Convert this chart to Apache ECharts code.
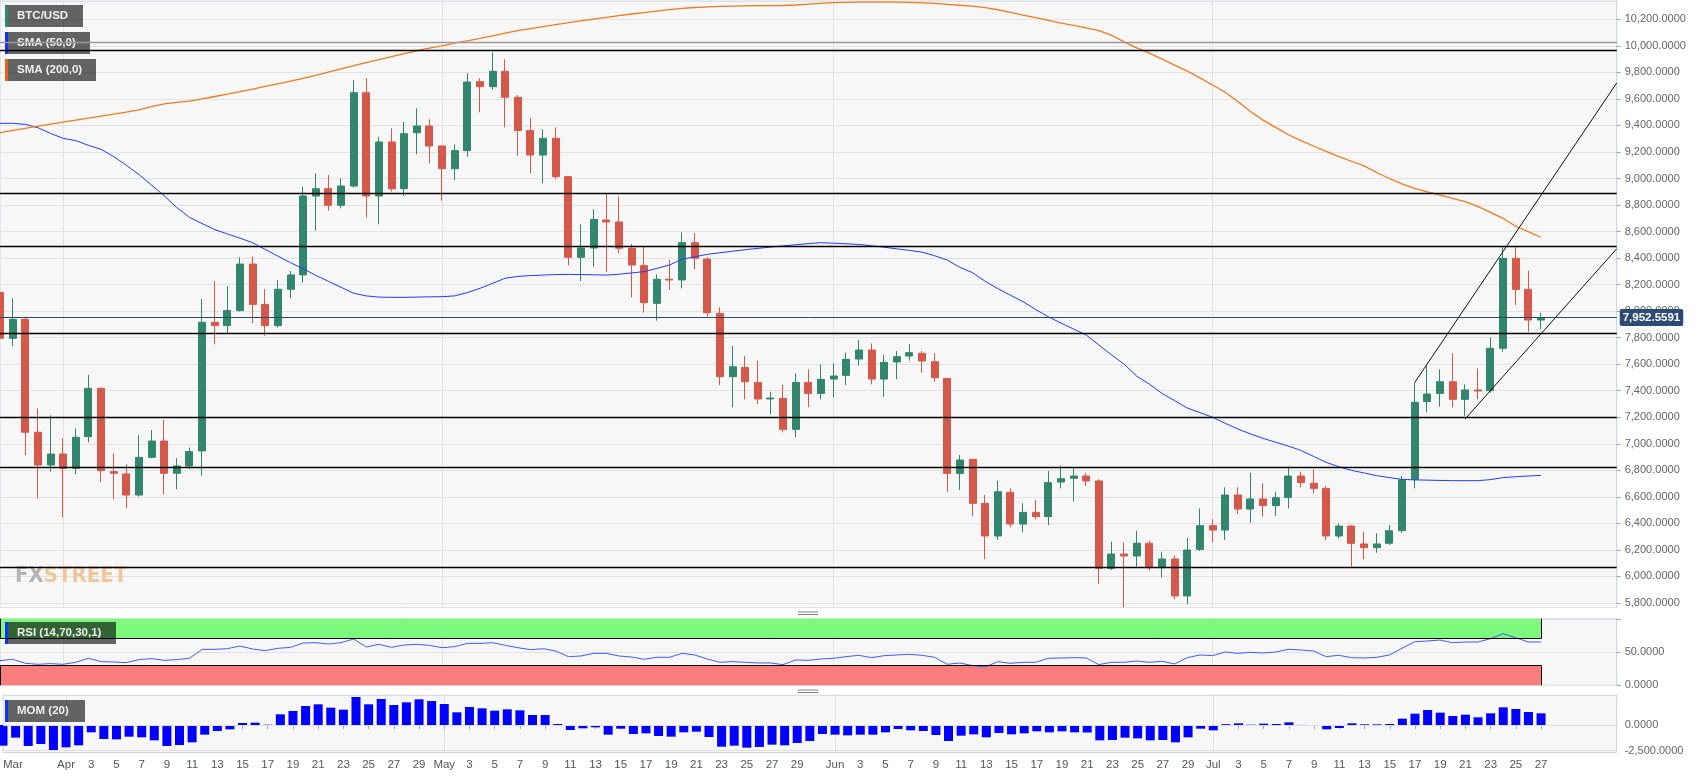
<!DOCTYPE html>
<html>
<head>
<meta charset="utf-8">
<script src="https://cdn.jsdelivr.net/npm/echarts@6/dist/echarts.min.js"></script>
<style>
html,body{margin:0;padding:0;background:#ffffff;}
#chart{width:1707px;height:778px;}
</style>
</head>
<body>
<div id="chart"></div>
<script>
// ---------------- DATA ----------------
// daily categories: 2018-03-27 .. 2018-08-02 (the axis runs 6 empty days past the last candle)
const FIRST_DAY = [2018, 2, 27];
const AXIS_DAYS = 129;
const dates = [];
(function () {
  const d = new Date(Date.UTC(FIRST_DAY[0], FIRST_DAY[1], FIRST_DAY[2]));
  for (let i = 0; i < AXIS_DAYS; i++) {
    dates.push(d.toISOString().slice(0, 10));
    d.setUTCDate(d.getUTCDate() + 1);
  }
})();

// BTC/USD daily candles: [open, close, low, high]
const candles = [
  [8142,7795,7757,8222],[7795,7938,7737,8097],[7938,7087,6913,7958],[7087,6840,6589,7267],[6840,6923,6790,7215],
  [6923,6815,6446,7041],[6815,7049,6770,7117],[7054,7418,7011,7519],[7418,6798,6710,7426],[6790,6778,6581,6928],
  [6773,6614,6514,6845],[6614,6898,6602,7066],[6898,7021,6891,7104],[7021,6778,6619,7180],[6778,6833,6657,6891],
  [6833,6941,6808,6971],[6946,7916,6760,8092],[7916,7891,7750,8227],[7891,8004,7825,8190],[8004,8355,7996,8406],
  [8355,8051,7908,8411],[8051,7891,7815,8165],[7891,8165,7878,8235],[8165,8273,8097,8303],[8273,8868,8215,8938],
  [8868,8923,8607,9039],[8923,8798,8757,9026],[8798,8943,8775,9001],[8943,9647,8933,9742],[9647,8868,8707,9755],
  [8868,9275,8655,9315],[9275,8923,8901,9378],[8923,9338,8868,9428],[9345,9396,9182,9529],[9396,9245,9114,9446],
  [9245,9074,8833,9250],[9074,9210,8989,9258],[9210,9727,9165,9793],[9730,9692,9499,9755],[9692,9808,9672,9951],
  [9808,9612,9386,9898],[9612,9361,9172,9629],[9361,9177,9039,9454],[9177,9303,8964,9371],[9303,9014,8994,9386],
  [9014,8406,8345,9019],[8406,8476,8227,8655],[8476,8692,8335,8768],[8687,8672,8293,8883],[8672,8474,8436,8863],
  [8474,8348,8104,8506],[8343,8064,7989,8486],[8059,8240,7928,8278],[8240,8235,8159,8386],[8235,8516,8172,8594],
  [8516,8398,8315,8587],[8393,7988,7958,8406],[7983,7506,7443,8029],[7506,7581,7275,7737],[7576,7468,7335,7662],
  [7463,7338,7300,7627],[7338,7345,7222,7393],[7343,7109,7086,7443],[7109,7463,7049,7531],[7463,7380,7275,7561],
  [7380,7486,7335,7599],[7488,7511,7350,7607],[7516,7637,7443,7689],[7639,7707,7589,7782],[7707,7488,7448,7757],
  [7488,7614,7355,7669],[7617,7657,7486,7700],[7662,7687,7627,7752],[7682,7624,7536,7700],[7619,7498,7468,7682],
  [7493,6777,6639,7493],[6777,6878,6652,6916],[6883,6551,6456,6883],[6551,6305,6129,6614],[6305,6639,6275,6722],
  [6634,6395,6370,6664],[6395,6483,6333,6551],[6483,6451,6431,6576],[6451,6707,6388,6795],[6712,6737,6664,6835],
  [6740,6757,6564,6820],[6757,6720,6682,6782],[6720,6061,5943,6732],[6061,6169,6049,6262],[6169,6154,5767,6255],
  [6154,6250,6074,6345],[6250,6066,6044,6270],[6066,6132,5993,6187],[6132,5853,5828,6157],[5853,6199,5790,6292],
  [6204,6383,6192,6513],[6383,6350,6257,6431],[6350,6614,6275,6672],[6614,6508,6471,6672],[6508,6584,6406,6782],
  [6584,6534,6451,6702],[6534,6594,6456,6639],[6596,6757,6513,6828],[6757,6707,6672,6790],[6702,6664,6627,6808],
  [6664,6305,6275,6682],[6305,6380,6287,6400],[6380,6250,6074,6388],[6245,6217,6129,6338],[6217,6245,6179,6325],
  [6250,6345,6237,6388],[6345,6727,6330,6757],[6732,7313,6664,7461],[7318,7375,7237,7587],[7380,7468,7280,7561],
  [7468,7335,7275,7682],[7335,7406,7212,7448],[7406,7398,7335,7569],[7401,7720,7385,7803],[7720,8398,7695,8481],
  [8398,8164,8046,8481],[8164,7933,7845,8305],[7933,7952.5591,7863,7988]
];

// SMA (50) values
const sma50 = [
  9416,9416,9408,9383,9340,9303,9285,9250,9220,9165,9100,9030,8950,8870,8780,8707,8660,8615,8582,8550,
  8516,8465,8415,8365,8320,8270,8225,8180,8135,8115,8106,8104,8104,8106,8108,8109,8115,8140,8172,8210,
  8248,8262,8268,8272,8276,8277,8276,8274,8272,8278,8288,8298,8322,8348,8391,8410,8428,8440,8452,8463,
  8473,8483,8492,8501,8509,8516,8512,8508,8503,8493,8482,8470,8458,8445,8418,8385,8330,8290,8225,8170,
  8120,8071,8012,7958,7910,7865,7820,7745,7670,7600,7510,7450,7380,7325,7270,7235,7200,7155,7112,7075,
  7041,7012,6983,6950,6905,6860,6827,6800,6780,6760,6745,6732,6728,6726,6724,6722,6722,6722,6730,6745,
  6752,6757,6762
];

// SMA (200) values
const sma200 = [
  9346,9362,9378,9394,9410,9425,9440,9455,9470,9485,9500,9517,9542,9563,9574,9584,9600,9618,9636,9655,
  9674,9694,9714,9734,9755,9778,9802,9826,9850,9873,9896,9918,9942,9963,9983,9999,10020,10038,10056,10075,
  10096,10114,10130,10145,10160,10175,10188,10202,10215,10228,10240,10250,10262,10273,10282,10289,10294,10298,10300,10302,
  10303,10303,10304,10308,10314,10320,10325,10328,10330,10330,10330,10329,10327,10324,10320,10313,10306,10300,10288,10272,
  10252,10232,10212,10192,10172,10155,10136,10115,10080,10030,9985,9945,9900,9855,9810,9758,9705,9650,9580,9505,
  9440,9385,9330,9285,9245,9205,9165,9130,9095,9045,9000,8960,8925,8900,8875,8850,8825,8790,8745,8700,
  8640,8600,8557
];

// RSI (14,70,30,1)
const rsi = [
  37,39,33,31.5,32.5,31.5,34.5,40.5,35.5,35,34,38.5,40,37.5,38.5,40.5,54,54,55,59,
  54.5,52,55.5,57,63.5,64,62,64,69.5,57.5,61.5,57,60.5,61.5,60,56.5,58,63,63,64,
  60,56.5,53.5,55,51.5,43,44,48,48,44,42.5,39,42,42,48,45.5,39.5,34.5,35.5,34.5,
  33.5,33.5,31,38,37.5,39.5,40.5,43,45,41.5,44.5,45.5,46.5,45,42,31.5,33.5,29.5,27.5,35.5,
  33,34.5,34.5,40.5,41,41.5,41,31,34.5,34.5,36.5,34.5,36,32,41.5,45.5,44.5,50,48,49.5,
  48.5,50,54,53,51.5,43,45,41.5,41,42,45.5,55.5,65.5,66.5,68,64,65,65,70,77.5,
  71.5,65,65
];

// MOM (20)
const mom = [
  -2010,-1232,-2043,-1849,-2497,-2173,-1978,-713,-1362,-1394,-1135,-1200,-1492,-2043,-1946,-1686,-940,-584,-422,195,
  227,30,1038,1362,1849,2011,1686,1492,2724,2011,2530,1946,2205,2497,2335,2043,1232,1751,1622,1394,
  1524,1427,973,973,97,-486,-324,-227,-940,-357,-876,-811,-1070,-1135,-713,-649,-1168,-2108,-2011,-2205,
  -2140,-1913,-1978,-1751,-1557,-876,-940,-1005,-940,-940,-713,-389,-519,-584,-973,-1557,-1038,-908,-1200,-778,
  -908,-811,-616,-713,-616,-713,-730,-1492,-1459,-1232,-1297,-1492,-1459,-1686,-1200,-357,-519,80,162,30,
  130,97,259,10,-30,-422,-292,162,65,65,97,616,1103,1459,1200,876,1005,746,1135,1719,
  1557,1265,1135
];

// drawn horizontal support/resistance levels
const levels = [9964, 8888, 8487, 7833, 7201, 6823, 6069];
const greyLevel = 10027;
const lastPrice = 7952.5591;
// drawn channel lines [date, price]
const channelUpper = [['2018-07-17', 7461], ['2018-08-02', 9720]];
const channelLower = [['2018-07-21', 7187], ['2018-08-02', 8470]];

// x tick labels (days that get a label)
const xLabelDays = {
  '2018-03': [27],
  '2018-04': [1,3,5,7,9,11,13,15,17,19,21,23,25,27,29],
  '2018-05': [1,3,5,7,9,11,13,15,17,19,21,23,25,27,29],
  '2018-06': [1,3,5,7,9,11,13,15,17,19,21,23,25,27,29],
  '2018-07': [1,3,5,7,9,11,13,15,17,19,21,23,25,27]
};
const monthNames = {'03':'Mar','04':'Apr','05':'May','06':'Jun','07':'Jul'};
// vertical month grid lines
const monthLines = ['2018-04-01', '2018-05-01', '2018-06-01', '2018-07-01'];

// y tick label sets
const rsiTicks = [0, 50];
const momTicks = [-2500, 0];

// ---------------- BUILD ----------------
const labelMap = {};
let firstLabel = true;
Object.keys(xLabelDays).forEach(function (ym) {
  xLabelDays[ym].forEach(function (day) {
    const key = ym + '-' + String(day).padStart(2, '0');
    const mm = ym.slice(5, 7);
    labelMap[key] = (day === 1 || firstLabel) ? monthNames[mm] : String(day);
    firstLabel = false;
  });
});

const nf = new Intl.NumberFormat('en-US', {minimumFractionDigits: 4, maximumFractionDigits: 4});
const LAST = candles.length - 1;
const FONT = 'Liberation Sans, Arial, sans-serif';
const GRID_BORDER = '#cfd6e4';
const GRID_LINE = '#e3e3e3';

function monthSplit(idx, val) { return monthLines.indexOf(val) >= 0; }

function gridCfg(top, height) {
  return {left: 0, right: 90.3, top: top, height: height, show: true,
    backgroundColor: '#f7f7f7', borderColor: GRID_BORDER, borderWidth: 1};
}
function hiddenX(gi) {
  return {type: 'category', gridIndex: gi, data: dates, boundaryGap: false,
    axisLine: {show: false}, axisTick: {show: false}, axisLabel: {show: false},
    splitLine: {show: true, interval: monthSplit, lineStyle: {color: GRID_LINE, width: 1}}};
}
const yLabelStyle = {color: '#666', fontSize: 11, fontFamily: FONT, margin: 8};

function tag(x, y, w, text, stripe) {
  return {
    type: 'group', z: 2,
    children: [
      {type: 'rect', z: 2, shape: {x: x, y: y, width: w, height: 22}, style: {fill: 'rgba(0,0,0,0.6)'}},
      {type: 'rect', z: 2, shape: {x: x, y: y, width: 3, height: 22}, style: {fill: stripe}},
      {type: 'text', z: 2, x: x + 12, y: y + 11,
        style: {text: text, fill: '#f0f0f0', font: 'bold 11.5px ' + FONT, verticalAlign: 'middle', align: 'left'}}
    ]
  };
}
function handle(cx, y) {
  return {type: 'group', z: 2, children: [
    {type: 'line', z: 2, shape: {x1: cx - 10, y1: y, x2: cx + 10, y2: y}, style: {stroke: '#808080', lineWidth: 1}},
    {type: 'line', z: 2, shape: {x1: cx - 10, y1: y + 2.5, x2: cx + 10, y2: y + 2.5}, style: {stroke: '#808080', lineWidth: 1}}
  ]};
}

const option = {
  backgroundColor: '#ffffff',
  animation: false,
  textStyle: {fontFamily: FONT},
  grid: [gridCfg(1, 606.5), gridCfg(618.75, 66.5), gridCfg(695.3, 57.2)],
  xAxis: [
    hiddenX(0),
    hiddenX(1),
    {type: 'category', gridIndex: 2, data: dates, boundaryGap: false,
      axisLine: {show: true, lineStyle: {color: GRID_BORDER}},
      axisTick: {show: true, interval: function (i, v) { return labelMap[v] !== undefined; }, length: 4, lineStyle: {color: '#a0a8b8'}},
      axisLabel: {show: true, interval: function (i, v) { return labelMap[v] !== undefined; },
        formatter: function (v) { return labelMap[v] || ''; }, color: '#555', fontSize: 11.5, fontFamily: FONT, margin: 6,
        alignMinLabel: 'left'},
      splitLine: {show: true, interval: monthSplit, lineStyle: {color: GRID_LINE, width: 1}}}
  ],
  yAxis: [
    {type: 'value', gridIndex: 0, position: 'right', min: 5766, max: 10338, minInterval: 200, maxInterval: 200,
      axisLine: {show: true, lineStyle: {color: GRID_BORDER}},
      axisTick: {show: true, length: 4, lineStyle: {color: '#a0a8b8'}},
      axisLabel: Object.assign({showMinLabel: false, showMaxLabel: false,
        formatter: function (v) { return Math.abs(v % 200) < 1e-6 ? nf.format(v) : ''; }}, yLabelStyle),
      splitLine: {show: true, lineStyle: {color: GRID_LINE, width: 1}}},
    {type: 'value', gridIndex: 1, position: 'right', min: 0, max: 100, interval: 50,
      axisLine: {show: true, lineStyle: {color: GRID_BORDER}},
      axisTick: {show: true, length: 4, lineStyle: {color: '#a0a8b8'}},
      axisLabel: Object.assign({formatter: function (v) { return rsiTicks.indexOf(v) >= 0 ? nf.format(v) : ''; }}, yLabelStyle),
      splitLine: {show: true, lineStyle: {color: GRID_LINE, width: 1}}},
    {type: 'value', gridIndex: 2, position: 'right', min: -2675, max: 2889, minInterval: 2500, maxInterval: 2500,
      axisLine: {show: true, lineStyle: {color: GRID_BORDER}},
      axisTick: {show: false},
      axisLabel: Object.assign({showMinLabel: false, showMaxLabel: false,
        formatter: function (v) { return momTicks.indexOf(v) >= 0 ? nf.format(v) : ''; }}, yLabelStyle),
      splitLine: {show: false}}
  ],
  series: [
    {
      name: 'BTC/USD', type: 'candlestick', xAxisIndex: 0, yAxisIndex: 0, z: 3,
      barWidth: 7.5,
      data: candles,
      itemStyle: {color: '#32866e', color0: '#d5594a', borderColor: '#32866e', borderColor0: '#d5594a', borderWidth: 1},
      markLine: {
        silent: true, symbol: ['none', 'none'], animation: false,
        label: {show: false},
        data: levels.map(function (v) {
          return {yAxis: v, lineStyle: {color: '#000000', width: 1.4, type: 'solid'}};
        }).concat([
          {yAxis: greyLevel, lineStyle: {color: '#9a9a9a', width: 1.4, type: 'solid'}},
          {yAxis: lastPrice, lineStyle: {color: '#2c4770', width: 1, type: 'solid'},
            label: {show: true, position: 'end', distance: 3, formatter: nf.format(lastPrice),
              color: '#ffffff', fontWeight: 'bold', fontSize: 11.5, fontFamily: FONT,
              backgroundColor: '#2d4b74', padding: [3, 3, 2, 3], borderRadius: 2}},
          [{coord: channelUpper[0], lineStyle: {color: '#111111', width: 1, type: 'solid'}}, {coord: channelUpper[1]}],
          [{coord: channelLower[0], lineStyle: {color: '#111111', width: 1, type: 'solid'}}, {coord: channelLower[1]}]
        ])
      }
    },
    {name: 'SMA (50,0)', type: 'line', xAxisIndex: 0, yAxisIndex: 0, z: 4, data: sma50, showSymbol: false,
      lineStyle: {color: '#1e3cff', width: 1}, silent: true},
    {name: 'SMA (200,0)', type: 'line', xAxisIndex: 0, yAxisIndex: 0, z: 4, data: sma200, showSymbol: false,
      lineStyle: {color: '#f07a1e', width: 1.3}, silent: true},
    {name: 'RSI bands', type: 'line', xAxisIndex: 1, yAxisIndex: 1, z: 1, data: rsi, showSymbol: false,
      lineStyle: {opacity: 0}, silent: true,
      markArea: {silent: true, data: [
        [{xAxis: dates[0], yAxis: 70, itemStyle: {color: '#7dfa7d'}}, {xAxis: dates[LAST], yAxis: 100}],
        [{xAxis: dates[0], yAxis: 0, itemStyle: {color: '#fa7d7d'}}, {xAxis: dates[LAST], yAxis: 30}]
      ]},
      markLine: {silent: true, symbol: ['none', 'none'], label: {show: false},
        lineStyle: {color: '#000000', width: 1, type: 'solid'},
        data: [
          [{coord: [dates[0], 70]}, {coord: [dates[LAST], 70]}],
          [{coord: [dates[0], 30]}, {coord: [dates[LAST], 30]}],
          [{coord: [dates[LAST], 70]}, {coord: [dates[LAST], 100]}],
          [{coord: [dates[LAST], 0]}, {coord: [dates[LAST], 30]}],
          [{coord: [dates[0], 70]}, {coord: [dates[0], 100]}],
          [{coord: [dates[0], 0]}, {coord: [dates[0], 30]}]
        ]}
    },
    {name: 'RSI', type: 'line', xAxisIndex: 1, yAxisIndex: 1, z: 3, data: rsi, showSymbol: false,
      lineStyle: {color: '#3f5cff', width: 1}, silent: true},
    {name: 'MOM (20)', type: 'bar', xAxisIndex: 2, yAxisIndex: 2, z: 3, data: mom, barWidth: 9,
      itemStyle: {color: '#0000ff'}, silent: true,
      markLine: {silent: true, symbol: ['none', 'none'], label: {show: false},
        lineStyle: {color: '#e0e0e0', width: 1, type: 'solid'},
        data: momTicks.map(function (v) { return {yAxis: v}; })}
    }
  ],
  graphic: [
    tag(5, 5, 78, 'BTC/USD', '#2e8b72'),
    tag(5, 32, 85, 'SMA (50,0)', '#1030ff'),
    tag(5, 59, 91, 'SMA (200,0)', '#f06010'),
    tag(5, 622, 111, 'RSI (14,70,30,1)', '#1030ff'),
    tag(5, 700, 80, 'MOM (20)', '#1030ff'),
    handle(808, 612),
    handle(808, 690),
    {type: 'text', z: 2, x: 15, y: 576,
      style: {text: '{a|FX}{b|STREET}', verticalAlign: 'middle', align: 'left',
        rich: {
          a: {fill: '#b4b4b4', font: 'bold 22px "DejaVu Sans Condensed", sans-serif'},
          b: {fill: '#efc79c', font: 'bold 22px "DejaVu Sans Condensed", sans-serif'}
        }}}
  ]
};

const chart = echarts.init(document.getElementById('chart'), null, {renderer: 'canvas', width: 1707, height: 778});
chart.setOption(option);
</script>
</body>
</html>
